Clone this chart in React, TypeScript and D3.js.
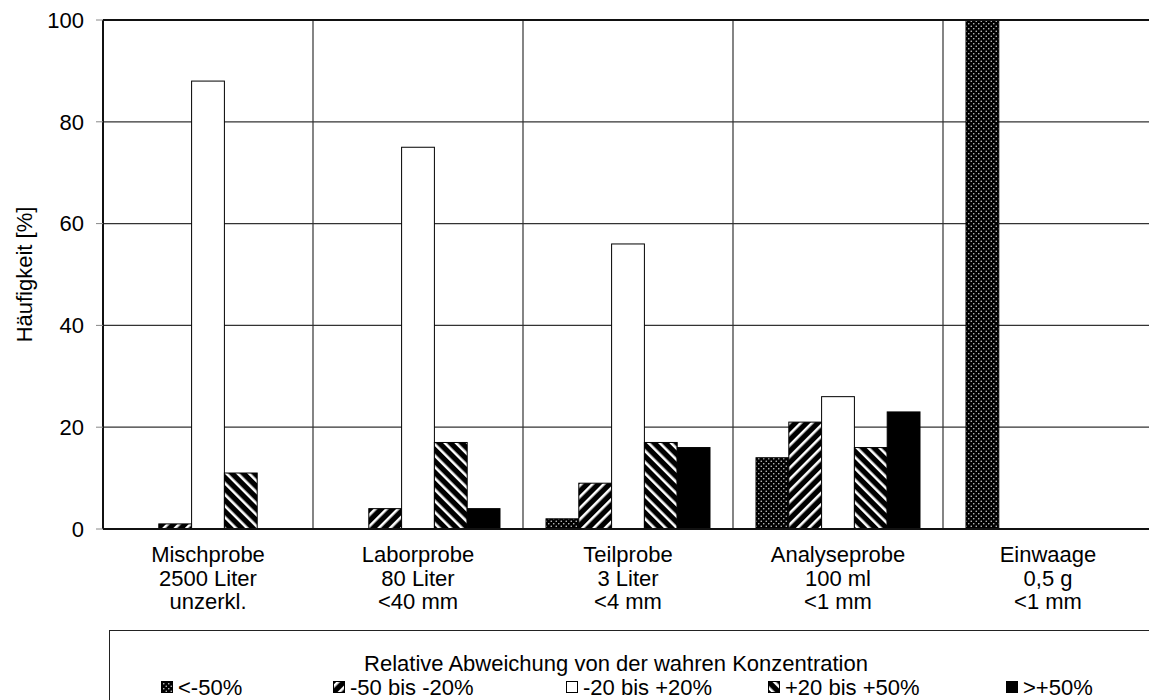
import * as d3 from "d3";

const categories = [
  ["Mischprobe", "2500 Liter", "unzerkl."],
  ["Laborprobe", "80 Liter", "<40 mm"],
  ["Teilprobe", "3 Liter", "<4 mm"],
  ["Analyseprobe", "100 ml", "<1 mm"],
  ["Einwaage", "0,5 g", "<1 mm"],
];
const seriesNames = ["<-50%", "-50 bis -20%", "-20 bis +20%", "+20 bis +50%", ">+50%"];
const seriesLt50 = [0, 0, 2, 14, 100];
const seriesM50M20 = [1, 4, 9, 21, 0];
const seriesPm20 = [88, 75, 56, 26, 0];
const seriesP20P50 = [11, 17, 17, 16, 0];
const seriesGt50 = [0, 4, 16, 23, 0];
const yTicks = [0, 20, 40, 60, 80, 100];

const series = [seriesLt50, seriesM50M20, seriesPm20, seriesP20P50, seriesGt50];
const fills = ["url(#dots)", "url(#fwd)", "#fff", "url(#back)", "#000"];

const W = 1149;
const H = 700;
const M = { left: 103, top: 20, right: -4, bottom: 171 };
const FONT = "'Liberation Sans', Arial, sans-serif";
const FS = 22;

export default function App() {
  const x0 = d3
    .scaleBand<number>()
    .domain(categories.map((_, i) => i))
    .range([M.left, W - M.right]);
  const x1 = d3
    .scaleBand<number>()
    .domain(seriesNames.map((_, i) => i))
    .range([23, x0.bandwidth() - 23]);
  const y = d3.scaleLinear().domain([0, 100]).range([H - M.bottom, M.top]);
  const y0 = y(0);
  const right = W - M.right;

  // text start positions of the legend entries
  const legendTextX = [178, 350, 583, 785, 1023];

  return (
    <svg
      width={W}
      height={H}
      style={{ position: "absolute", left: 0, top: 0, background: "#fff" }}
      fontFamily={FONT}
    >
      <defs>
        <pattern id="dots" width={5} height={5} patternUnits="userSpaceOnUse">
          <rect width={5} height={5} fill="#000" />
          <circle cx={1.25} cy={1.25} r={0.8} fill="#ccc" />
          <circle cx={3.75} cy={3.75} r={0.8} fill="#ccc" />
        </pattern>
        <pattern id="fwd" width={8} height={8} patternUnits="userSpaceOnUse" patternTransform="rotate(45)">
          <rect width={8} height={8} fill="#000" />
          <rect x={0} width={2.6} height={8} fill="#fff" />
        </pattern>
        <pattern id="back" width={8} height={8} patternUnits="userSpaceOnUse" patternTransform="rotate(-45)">
          <rect width={8} height={8} fill="#000" />
          <rect x={0} width={2.6} height={8} fill="#fff" />
        </pattern>
      </defs>

      {/* horizontal grid */}
      {yTicks.map((t) => (
        <line key={"h" + t} x1={M.left} x2={right} y1={y(t)} y2={y(t)} stroke="#333" strokeWidth={1.2} />
      ))}
      {/* vertical group separators */}
      {categories.map((_, i) =>
        i === 0 ? null : (
          <line
            key={"v" + i}
            x1={x0(i)!}
            x2={x0(i)!}
            y1={M.top}
            y2={y0}
            stroke="#333"
            strokeWidth={1.2}
          />
        )
      )}

      {/* bars */}
      {categories.map((_, ci) =>
        series.map((s, si) => {
          const v = s[ci];
          if (v <= 0) return null;
          const bx = x0(ci)! + x1(si)!;
          return (
            <rect
              key={ci + "-" + si}
              x={bx}
              y={y(v)}
              width={x1.bandwidth()}
              height={y0 - y(v)}
              fill={fills[si]}
              stroke="#000"
              strokeWidth={1}
            />
          );
        })
      )}

      {/* axes */}
      <line x1={M.left} x2={right} y1={M.top} y2={M.top} stroke="#111" strokeWidth={2} />
      <line x1={M.left} x2={right} y1={y0} y2={y0} stroke="#111" strokeWidth={2} />
      <line x1={M.left} x2={M.left} y1={M.top} y2={y0} stroke="#111" strokeWidth={2} />
      {yTicks.map((t) => (
        <g key={"t" + t}>
          <line x1={96} x2={M.left} y1={y(t)} y2={y(t)} stroke="#888" strokeWidth={1} />
          <text x={84} y={y(t)} dy="0.35em" textAnchor="end" fontSize={FS} fill="#000">
            {t}
          </text>
        </g>
      ))}
      <text
        transform={`translate(24,${(M.top + y0) / 2}) rotate(-90)`}
        dy="0.35em"
        textAnchor="middle"
        fontSize={FS}
        fill="#000"
      >
        Häufigkeit [%]
      </text>

      {/* category labels */}
      {categories.map((lines, ci) => (
        <text
          key={"c" + ci}
          x={x0(ci)! + x0.bandwidth() / 2}
          y={562}
          textAnchor="middle"
          fontSize={FS}
          fill="#000"
        >
          {lines.map((l, li) => (
            <tspan key={li} x={x0(ci)! + x0.bandwidth() / 2} dy={li === 0 ? 0 : 23.5}>
              {l}
            </tspan>
          ))}
        </text>
      ))}

      {/* legend */}
      <rect x={109.5} y={630.5} width={W} height={H} fill="none" stroke="#222" strokeWidth={1} />
      <text x={616} y={671} textAnchor="middle" fontSize={FS} fill="#000">
        Relative Abweichung von der wahren Konzentration
      </text>
      {seriesNames.map((n, i) => (
        <g key={"l" + i}>
          <rect
            x={legendTextX[i] - 16.5}
            y={681.5}
            width={11}
            height={11}
            fill={fills[i]}
            stroke="#000"
            strokeWidth={1}
          />
          <text x={legendTextX[i]} y={695} fontSize={FS} fill="#000">
            {n}
          </text>
        </g>
      ))}
    </svg>
  );
}
